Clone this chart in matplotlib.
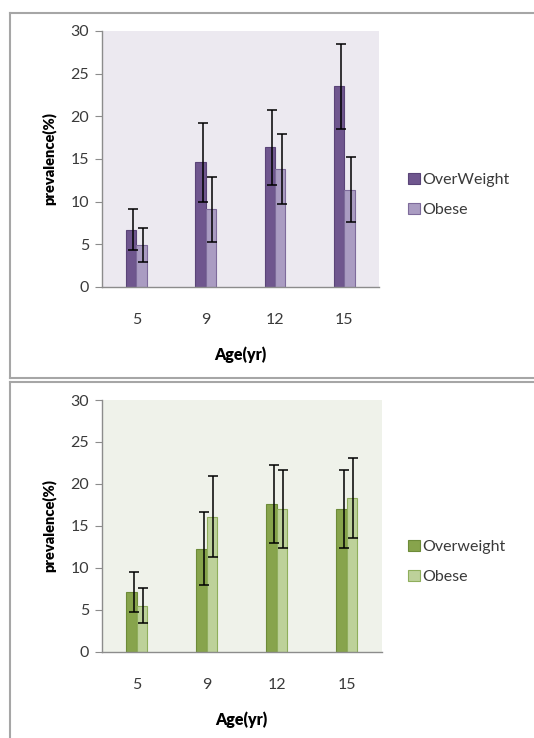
import numpy as np
import matplotlib
matplotlib.use("Agg")
from matplotlib import pyplot as plt
from matplotlib.lines import Line2D

plt.rcParams['font.family'] = ['Lato', 'DejaVu Sans']

# 数据
ages = ["5", "9", "12", "15"]

top_labels = ["OverWeight", "Obese"]
top_ow = [6.7, 14.6, 16.4, 23.5]
top_ow_err = [2.4, 4.6, 4.4, 5.0]
top_ob = [4.9, 9.1, 13.8, 11.4]
top_ob_err = [2.0, 3.8, 4.1, 3.8]

bot_labels = ["Overweight", "Obese"]
bot_ow = [7.1, 12.3, 17.6, 17.0]
bot_ow_err = [2.4, 4.4, 4.6, 4.6]
bot_ob = [5.5, 16.1, 17.0, 18.3]
bot_ob_err = [2.1, 4.8, 4.6, 4.8]

W, H = 534, 738
fig = plt.figure(figsize=(W / 100, H / 100), dpi=100)

# 外框
border = "#a6a6a6"
def hline(x0, x1, y):
    fig.add_artist(Line2D([x0 / W, x1 / W], [1 - y / H, 1 - y / H], color=border, lw=1.5))
def vline(x, y0, y1):
    fig.add_artist(Line2D([x / W, x / W], [1 - y0 / H, 1 - y1 / H], color=border, lw=1.5))

hline(10, W, 12.5)
hline(10, W, 378)
vline(10, 12.5, 378)
hline(10, W, 382)
vline(10, 382, H)

text_color = "#3a3a3a"


def draw_panel(rect, ow, ow_err, ob, ob_err, labels, bg, c_ow, e_ow, c_ob, e_ob, leg_y):
    ax = fig.add_axes(rect)
    ax.set_facecolor(bg)
    x = np.arange(len(ages))
    w = 0.15
    ax.bar(x - w / 2, ow, w, color=c_ow, edgecolor=e_ow, linewidth=0.8, label=labels[0], zorder=2)
    ax.bar(x + w / 2, ob, w, color=c_ob, edgecolor=e_ob, linewidth=0.8, label=labels[1], zorder=2)
    ax.errorbar(x - w / 2 + 0.03, ow, yerr=ow_err, fmt="none", ecolor="black",
                elinewidth=1.1, capsize=3.3, capthick=1.1, zorder=3)
    ax.errorbar(x + w / 2 + 0.02, ob, yerr=ob_err, fmt="none", ecolor="black",
                elinewidth=1.1, capsize=3.3, capthick=1.1, zorder=3)

    ax.set_xlim(-0.5, len(ages) - 0.5)
    ax.set_ylim(0, 30)
    ax.set_yticks(range(0, 31, 5))
    ax.set_xticks(x)
    ax.set_xticklabels(ages)
    for s in ["top", "right"]:
        ax.spines[s].set_visible(False)
    for s in ["left", "bottom"]:
        ax.spines[s].set_color("#8c8c8c")
        ax.spines[s].set_linewidth(1.0)
    ax.tick_params(axis="y", length=5, color="#8c8c8c", labelsize=11.5,
                   labelcolor=text_color, pad=4)
    ax.tick_params(axis="x", length=0, labelsize=11.5, labelcolor=text_color, pad=19)
    ax.set_ylabel("prevalence(%)", fontsize=10.5, fontweight="heavy", labelpad=10)
    ax.set_xlabel("Age(yr)", fontsize=11.5, fontweight="heavy", labelpad=14)

    leg = ax.legend(loc="center left", bbox_to_anchor=(402 / W, 1 - leg_y / H),
                    bbox_transform=fig.transFigure,
                    frameon=False, fontsize=11.5, handlelength=0.7, handleheight=0.7,
                    handletextpad=0.15, labelspacing=0.98, borderaxespad=0)
    for t in leg.get_texts():
        t.set_color(text_color)
    return ax


draw_panel([101.7 / W, 1 - 287 / H, 277.3 / W, 256 / H],
           top_ow, top_ow_err, top_ob, top_ob_err, top_labels,
           "#ece9f0", "#6f568e", "#5a4478", "#aa9cc2", "#7e6b9b", 195)

draw_panel([101.7 / W, 1 - 651.7 / H, 280 / W, 251.7 / H],
           bot_ow, bot_ow_err, bot_ob, bot_ob_err, bot_labels,
           "#eff2ea", "#87a44c", "#6d8b38", "#bdd19a", "#8fae5c", 562)

fig.savefig("out.png", dpi=100)
